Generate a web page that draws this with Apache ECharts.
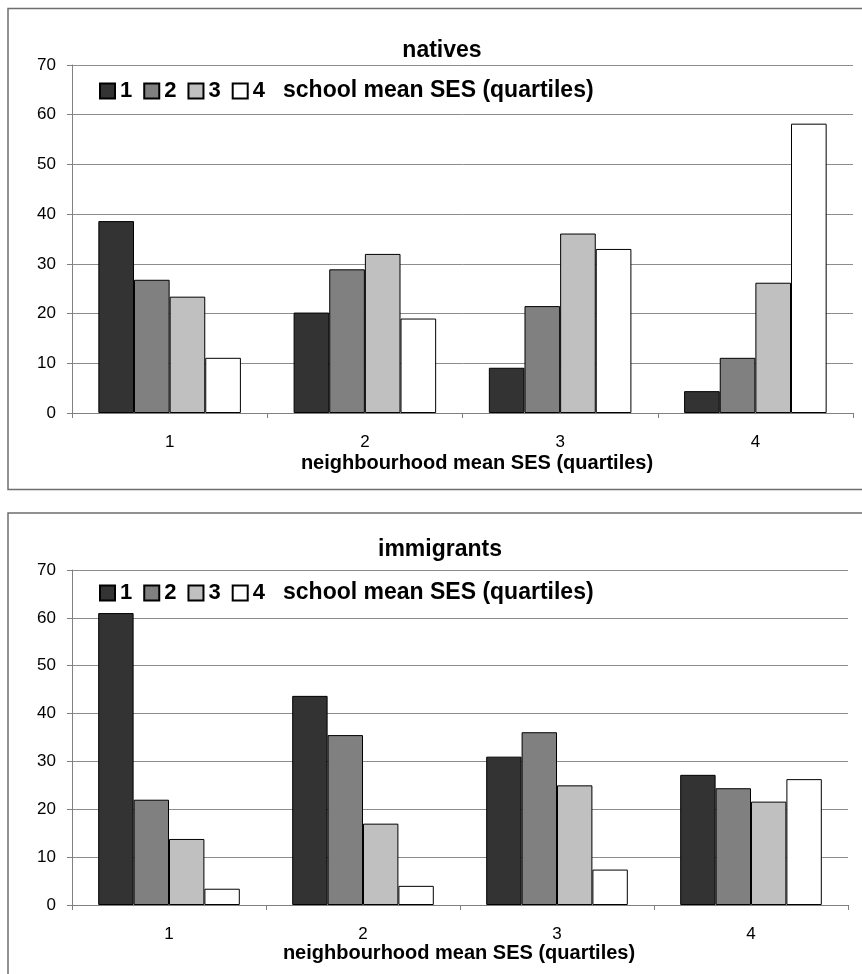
<!DOCTYPE html>
<html><head><meta charset="utf-8">
<script src="https://cdn.jsdelivr.net/npm/echarts@6/dist/echarts.min.js"></script>
<style>html,body{margin:0;padding:0;background:#fff}#c{width:862px;height:974px}</style>
</head><body><div id="c"></div>
<script>
const categories = ['1','2','3','4'];
const seriesNames = ['1','2','3','4'];
const colors = ['#333333','#808080','#c0c0c0','#ffffff'];
const yTicks = [0,10,20,30,40,50,60,70];
const natives = [
  [38.6, 20.2, 9.1, 4.4],
  [26.8, 28.9, 21.5, 11.1],
  [23.4, 32.0, 36.1, 26.2],
  [11.1, 19.0, 33.0, 58.2]
];
const immigrants = [
  [61.0, 43.7, 31.0, 27.2],
  [22.0, 35.5, 36.1, 24.4],
  [13.8, 17.0, 25.0, 21.6],
  [3.4, 4.0, 7.4, 26.3]
];
const panelTitles = ['natives','immigrants'];
const xName = 'neighbourhood mean SES (quartiles)';
const legendText = 'school mean SES (quartiles)';

const font = '"Liberation Sans", Arial, sans-serif';
const chart = echarts.init(document.getElementById('c'));
const grids = [
  {left:72, top:65, width:781, height:348},
  {left:72, top:570, width:776, height:335}
];
const nameGaps = [40, 31];
const namePads = [[0,0,0,29],[0,2,0,0]];
const xAxes = grids.map((g,i)=>({
  type:'category', gridIndex:i, data:categories,
  name:xName, nameLocation:'middle', nameGap:nameGaps[i],
  nameTextStyle:{fontFamily:font, fontSize:20, fontWeight:'bold', color:'#000', padding:namePads[i]},
  axisLine:{lineStyle:{color:'#808080',width:1}},
  axisTick:{show:true,length:5,lineStyle:{color:'#808080'}},
  axisLabel:{fontFamily:font, fontSize:17, color:'#000', margin:21}
}));
const yAxes = grids.map((g,i)=>({
  type:'value', gridIndex:i, min:0, max:70, interval:10,
  axisLine:{show:true,lineStyle:{color:'#808080',width:1}},
  axisTick:{show:true,length:5,lineStyle:{color:'#808080'}},
  axisLabel:{fontFamily:font, fontSize:17, color:'#000', margin:16,
    formatter:v=>yTicks.includes(v)?String(v):''},
  splitLine:{show:true,lineStyle:{color:'#8c8c8c',width:1}}
}));
const series = [];
[natives, immigrants].forEach((data,gi)=>{
  data.forEach((vals,si)=>{
    series.push({
      type:'bar', name:seriesNames[si], xAxisIndex:gi, yAxisIndex:gi,
      data:vals, barGap:'0%', barCategoryGap:'27%',
      itemStyle:{color:colors[si], borderColor:'#000', borderWidth:1},
      emphasis:{disabled:true}
    });
  });
});
const legendStyle = {
  itemWidth:15, itemHeight:15, itemGap:11, icon:'rect', padding:0,
  textStyle:{fontFamily:font, fontSize:22, fontWeight:'bold', color:'#000'},
  selectedMode:false, data:seriesNames
};
chart.setOption({
  animation:false,
  backgroundColor:'#fff',
  grid:grids,
  xAxis:xAxes, yAxis:yAxes, series:series,
  title:[
    {text:panelTitles[0], left:442, textAlign:'center', top:39, padding:0, textStyle:{fontFamily:font,fontSize:23,fontWeight:'bold',color:'#000'}},
    {text:panelTitles[1], left:440, textAlign:'center', top:538, padding:0, textStyle:{fontFamily:font,fontSize:23,fontWeight:'bold',color:'#000'}}
  ],
  legend:[
    Object.assign({left:99, top:80}, legendStyle),
    Object.assign({left:99, top:582}, legendStyle)
  ],
  graphic:[
    {type:'rect', shape:{x:8,y:8.5,width:870,height:481}, style:{fill:'none',stroke:'#6e6e6e',lineWidth:1.5}},
    {type:'rect', shape:{x:8,y:513,width:870,height:480}, style:{fill:'none',stroke:'#6e6e6e',lineWidth:1.5}},
    {type:'text', left:283, top:79, style:{text:legendText, fontFamily:font, fontSize:23, fontWeight:'bold', fill:'#000'}},
    {type:'text', left:283, top:581, style:{text:legendText, fontFamily:font, fontSize:23, fontWeight:'bold', fill:'#000'}}
  ]
});
</script></body></html>
